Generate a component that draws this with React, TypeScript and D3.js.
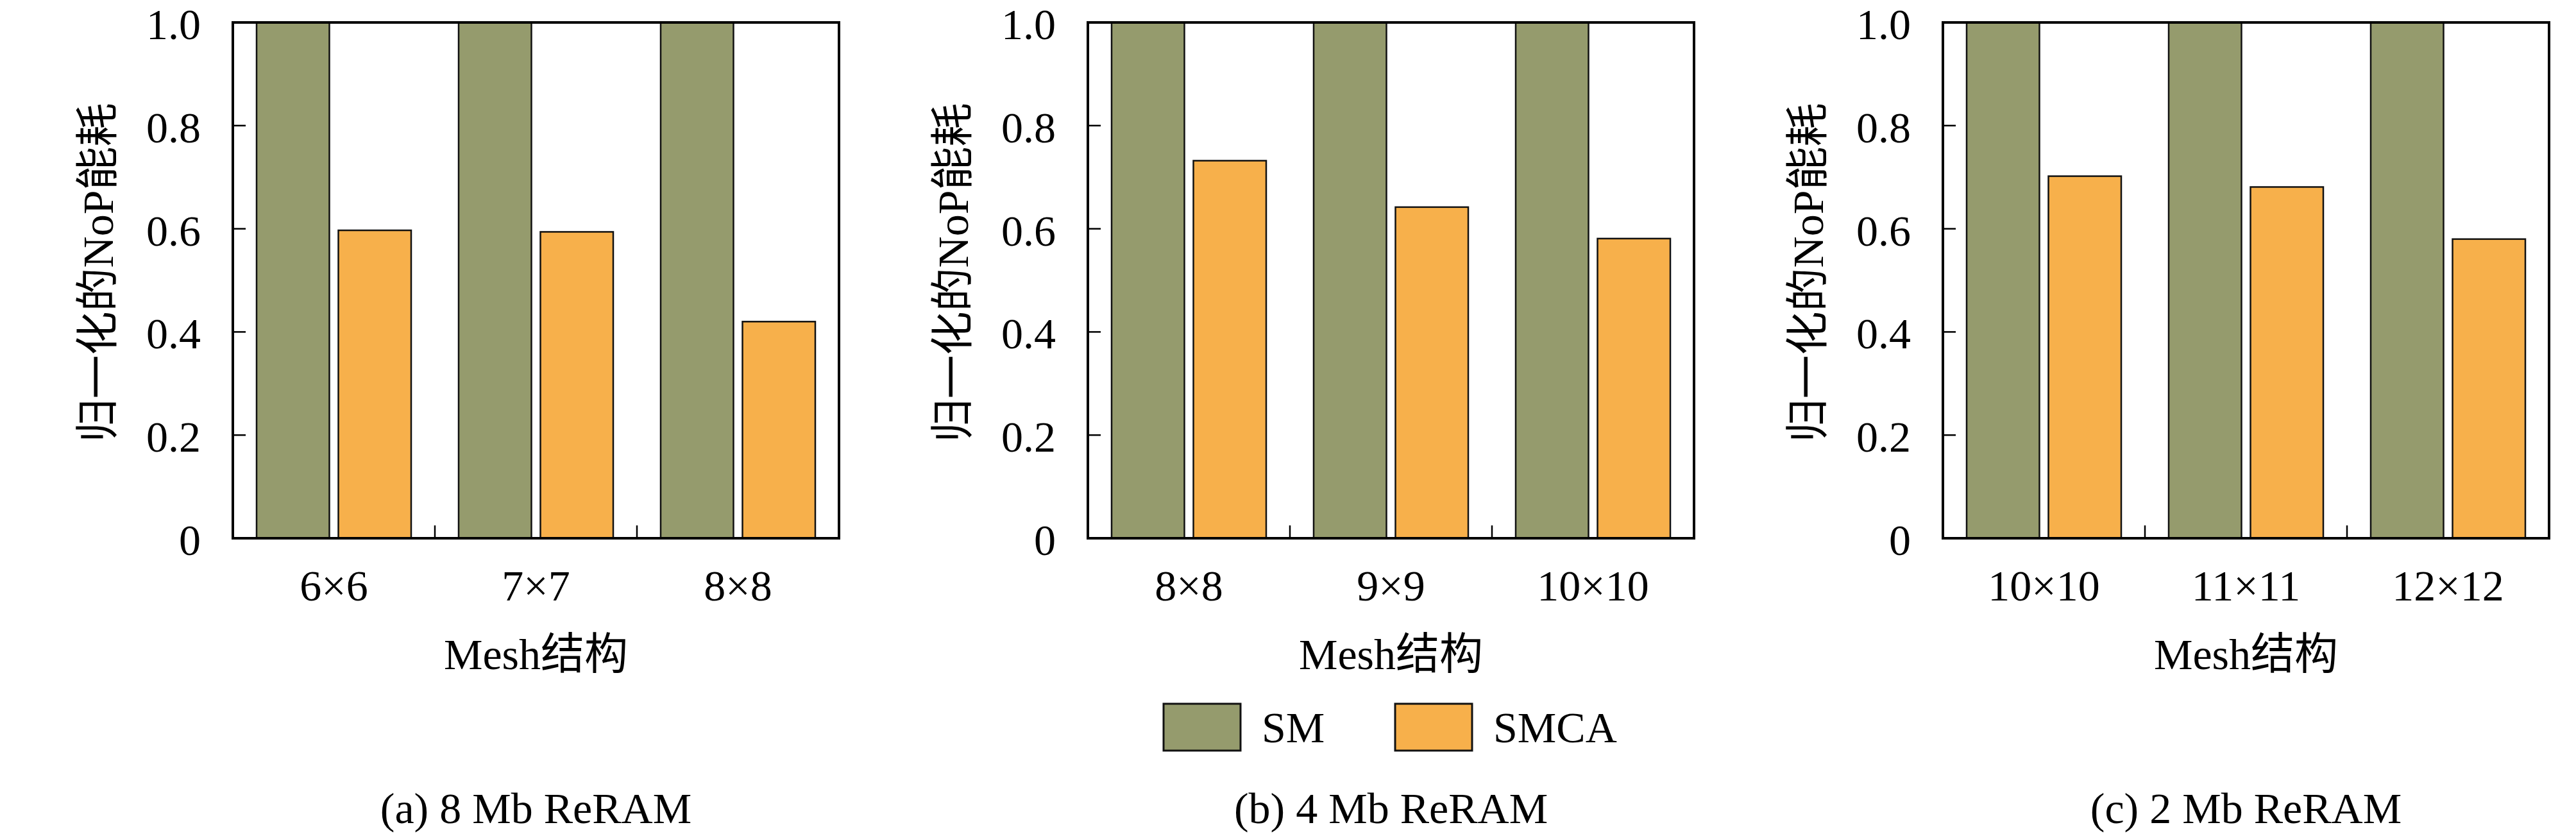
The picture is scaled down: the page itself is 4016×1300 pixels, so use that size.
import React from "react";
import * as d3 from "d3";

const panelCategories: string[][] = [
  ["6×6", "7×7", "8×8"],
  ["8×8", "9×9", "10×10"],
  ["10×10", "11×11", "12×12"],
];
const smValues: number[][] = [
  [1, 1, 1],
  [1, 1, 1],
  [1, 1, 1],
];
const smcaValues: number[][] = [
  [0.597, 0.594, 0.42],
  [0.732, 0.642, 0.581],
  [0.702, 0.681, 0.58],
];
const panelCaptions = ["(a) 8 Mb ReRAM", "(b) 4 Mb ReRAM", "(c) 2 Mb ReRAM"];
const seriesNames = ["SM", "SMCA"];
const seriesColors = ["#959b6d", "#f7b04b"];
const yTicks = [0, 0.2, 0.4, 0.6, 0.8, 1.0];
const yTickLabels = ["0", "0.2", "0.4", "0.6", "0.8", "1.0"];
const yLabel = "归一化的NoP能耗";
const xLabel = "Mesh结构";

const W = 4016;
const H = 1300;
const plotLefts = [363, 1696, 3029];
const plotW = 945;
const plotTop = 35;
const plotBottom = 839;
const FONT = "'Liberation Serif', 'Noto Sans CJK SC', serif";
const FS = 68;

function Panel({ idx }: { idx: number }) {
  const left = plotLefts[idx];
  const cats = panelCategories[idx];
  const x0 = d3.scaleBand<string>().domain(cats).range([left, left + plotW]).padding(0);
  const x1 = d3
    .scaleBand<string>()
    .domain(seriesNames)
    .range([37, x0.bandwidth() - 37])
    .paddingInner(0.11)
    .paddingOuter(0);
  const y = d3.scaleLinear().domain([0, 1]).range([plotBottom, plotTop]);
  const cx = left + plotW / 2;
  const separators = cats.slice(1).map((c) => x0(c) as number);
  return (
    <g>
      {cats.map((c, i) => {
        const gx = x0(c) as number;
        const vals = [smValues[idx][i], smcaValues[idx][i]];
        return (
          <g key={c}>
            {seriesNames.map((s, j) => (
              <rect
                key={s}
                x={gx + (x1(s) as number)}
                y={y(vals[j])}
                width={x1.bandwidth()}
                height={y(0) - y(vals[j])}
                fill={seriesColors[j]}
                stroke="#111"
                strokeWidth={2.5}
              />
            ))}
            <text
              x={gx + x0.bandwidth() / 2}
              y={936}
              textAnchor="middle"
              fontFamily={FONT}
              fontSize={FS}
              fill="#000"
            >
              {c}
            </text>
          </g>
        );
      })}
      {yTicks.map((t, i) => (
        <g key={t}>
          <line x1={left} x2={left + 20} y1={y(t)} y2={y(t)} stroke="#000" strokeWidth={2.5} />
          <text
            x={left - 50}
            y={y(t) + 26}
            textAnchor="end"
            fontFamily={FONT}
            fontSize={FS}
            fill="#000"
          >
            {yTickLabels[i]}
          </text>
        </g>
      ))}
      {separators.map((sx, i) => (
        <line key={i} x1={sx} x2={sx} y1={plotBottom} y2={plotBottom - 20} stroke="#000" strokeWidth={2.5} />
      ))}
      <rect
        x={left}
        y={plotTop}
        width={plotW}
        height={plotBottom - plotTop}
        fill="none"
        stroke="#000"
        strokeWidth={4}
      />
      <text
        transform={`translate(${left - 210},${425}) rotate(-90)`}
        textAnchor="middle"
        dominantBaseline="central"
        fontFamily={FONT}
        fontSize={FS}
        fill="#000"
      >
        {yLabel}
      </text>
      <text x={cx} y={1043} textAnchor="middle" fontFamily={FONT} fontSize={FS} fill="#000">
        {xLabel}
      </text>
      <text x={cx} y={1283} textAnchor="middle" fontFamily={FONT} fontSize={FS} fill="#000">
        {panelCaptions[idx]}
      </text>
    </g>
  );
}

function Legend() {
  const left = plotLefts[1];
  const boxX = [left + 118, left + 479];
  return (
    <g>
      {seriesNames.map((s, j) => (
        <g key={s}>
          <rect
            x={boxX[j]}
            y={1097}
            width={120}
            height={73}
            fill={seriesColors[j]}
            stroke="#111"
            strokeWidth={3}
          />
          <text x={boxX[j] + 153} y={1157} fontFamily={FONT} fontSize={FS} fill="#000">
            {s}
          </text>
        </g>
      ))}
    </g>
  );
}

export default function App() {
  return (
    <svg
      width={W}
      height={H}
      viewBox={`0 0 ${W} ${H}`}
      style={{ position: "absolute", left: 0, top: 0, background: "#fff" }}
    >
      <rect x={0} y={0} width={W} height={H} fill="#fff" />
      {[0, 1, 2].map((i) => (
        <Panel key={i} idx={i} />
      ))}
      <Legend />
    </svg>
  );
}
